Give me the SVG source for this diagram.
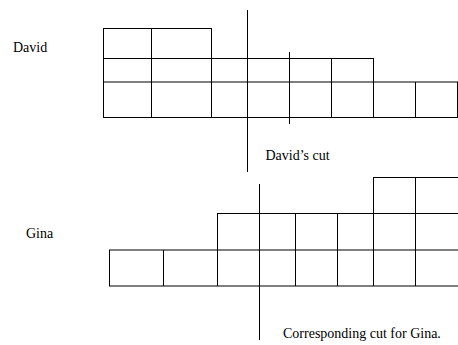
<svg xmlns="http://www.w3.org/2000/svg" width="458" height="345" viewBox="0 0 458 345">
  <style>
    .grid line { stroke: #000; stroke-width: 1; }
    .cut { stroke: #000; stroke-width: 1; }
    .label { font-family: "Liberation Serif", "Times New Roman", serif; font-size: 14px; fill: #000; }
  </style>
  <rect width="458" height="345" fill="#fff"/>

  <!-- David's bar: three stepped rows of squares -->
  <g id="david-grid" class="grid">
    <line x1="103" y1="28.5" x2="212" y2="28.5"/>
    <line x1="103" y1="58.5" x2="374" y2="58.5"/>
    <line x1="103" y1="82" x2="458" y2="82"/>
    <line x1="103" y1="117.5" x2="458" y2="117.5"/>
    <line x1="103.5" y1="28" x2="103.5" y2="118"/>
    <line x1="151.5" y1="28" x2="151.5" y2="118"/>
    <line x1="211.5" y1="28" x2="211.5" y2="118"/>
    <line x1="289.5" y1="52" x2="289.5" y2="124"/>
    <line x1="331.5" y1="58" x2="331.5" y2="118"/>
    <line x1="373.5" y1="58" x2="373.5" y2="118"/>
    <line x1="415.5" y1="82" x2="415.5" y2="118"/>
    <line x1="457.5" y1="82" x2="457.5" y2="118"/>
  </g>

  <!-- Gina's bar: three stepped rows of squares -->
  <g id="gina-grid" class="grid">
    <line x1="373" y1="177.5" x2="458" y2="177.5"/>
    <line x1="217" y1="213.5" x2="458" y2="213.5"/>
    <line x1="109" y1="250" x2="458" y2="250"/>
    <line x1="109" y1="286" x2="458" y2="286"/>
    <line x1="109.5" y1="250" x2="109.5" y2="286"/>
    <line x1="163.5" y1="250" x2="163.5" y2="286"/>
    <line x1="217.5" y1="213" x2="217.5" y2="286"/>
    <line x1="295.5" y1="213" x2="295.5" y2="286"/>
    <line x1="337.5" y1="213" x2="337.5" y2="286"/>
    <line x1="373.5" y1="177" x2="373.5" y2="286"/>
    <line x1="415.5" y1="177" x2="415.5" y2="286"/>
  </g>

  <!-- Cut lines -->
  <g id="cuts">
    <line id="david-cut" class="cut" x1="247.5" y1="10" x2="247.5" y2="172"/>
    <line id="gina-cut" class="cut" x1="259.5" y1="184" x2="259.5" y2="340"/>
  </g>

  <!-- Labels -->
  <g id="labels">
    <text class="label" x="13" y="52">David</text>
    <text class="label" x="26" y="238">Gina</text>
    <text class="label" x="265.5" y="160">David’s cut</text>
    <text class="label" x="283" y="338">Corresponding cut for Gina.</text>
  </g>
</svg>
